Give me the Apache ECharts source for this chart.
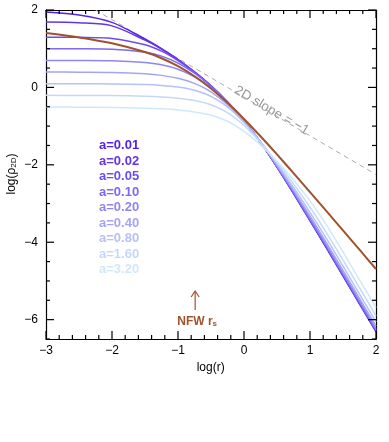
<!DOCTYPE html>
<html><head><meta charset="utf-8">
<script src="https://cdn.jsdelivr.net/npm/echarts@6/dist/echarts.min.js"></script>
<style>html,body{margin:0;padding:0;background:#fff}#c{width:389px;height:442px}</style>
</head><body><div id="c"></div>
<script>
const logR = [-3,-2.5,-2,-1.5,-1.25,-1,-0.75,-0.5,-0.25,0,0.25,0.5,0.75,1,1.25,1.5,1.75,2];
const aLabels = ['a=0.01','a=0.02','a=0.05','a=0.10','a=0.20','a=0.40','a=0.80','a=1.60','a=3.20'];
const rho_a001 = [1.95,1.87,1.68,1.25,1.00,0.72,0.40,0.04,-0.38,-0.86,-1.42,-2.06,-2.74,-3.44,-4.15,-4.87,-5.59,-6.31];
const rho_a002 = [1.69,1.67,1.59,1.22,0.99,0.715,0.398,0.04,-0.38,-0.86,-1.42,-2.059,-2.738,-3.437,-4.146,-4.866,-5.586,-6.306];
const rho_a005 = [1.299,1.294,1.266,1.103,0.936,0.693,0.393,0.040,-0.379,-0.860,-1.418,-2.054,-2.730,-3.426,-4.134,-4.853,-5.573,-6.293];
const rho_a010 = [0.999,0.997,0.986,0.909,0.809,0.629,0.367,0.031,-0.381,-0.861,-1.416,-2.047,-2.717,-3.409,-4.114,-4.833,-5.553,-6.273];
const rho_a020 = [0.698,0.696,0.688,0.641,0.583,0.468,0.275,-0.010,-0.396,-0.865,-1.412,-2.034,-2.694,-3.377,-4.078,-4.795,-5.515,-6.235];
const rho_a040 = [0.397,0.394,0.386,0.351,0.311,0.235,0.103,-0.114,-0.445,-0.883,-1.409,-2.012,-2.652,-3.321,-4.014,-4.728,-5.448,-6.168];
const rho_a080 = [0.096,0.095,0.091,0.073,0.051,0.008,-0.075,-0.231,-0.503,-0.906,-1.404,-1.976,-2.585,-3.229,-3.909,-4.619,-5.339,-6.059];
const rho_a160 = [-0.205,-0.207,-0.211,-0.229,-0.246,-0.279,-0.338,-0.449,-0.653,-0.985,-1.421,-1.934,-2.492,-3.097,-3.757,-4.460,-5.180,-5.900];
const rho_a320 = [-0.508,-0.510,-0.517,-0.536,-0.554,-0.583,-0.633,-0.719,-0.875,-1.138,-1.488,-1.911,-2.386,-2.932,-3.559,-4.252,-4.970,-5.690];
const rho_nfw  = [1.405,1.292,1.139,0.913,0.753,0.549,0.289,-0.027,-0.399,-0.815,-1.263,-1.732,-2.214,-2.704,-3.198,-3.695,-4.193,-4.692];
const slopeLineX = [-2.25, 2];
const slopeLineY = [2, -2.25];
const nfwLogRs = -0.74;
const xMajorTicks = [-3,-2,-1,0,1,2];
const yMajorTicks = [-6,-4,-2,0,2];
const xMinorStep = 0.2, yMinorStep = 0.5;

const blueSeries = [rho_a001,rho_a002,rho_a005,rho_a010,rho_a020,rho_a040,rho_a080,rho_a160,rho_a320];
const blueColors = ['#5520ee','#6633e6','#6c4cf0','#7e68f2','#8f86f4','#a3a4f6','#b6c1f8','#c5d8fa','#d0e8fc'];
const brown = '#a0522d';
const FONT = '"Liberation Sans", Arial, Helvetica, sans-serif';
const fmt = v => (v < 0 ? '\u2212' : '') + Math.abs(v);
const X0 = -3, X1 = 2, Y0 = -6.5, Y1 = 2;
const TICK_COLOR = '#000000', TICK_W = 1.2;

const isMajor = (v, arr) => arr.some(t => Math.abs(t - v) < 1e-9);
const tickData = [];
for (let k = 0; X0 + k * xMinorStep <= X1 + 1e-9; k++) {
  const v = +(X0 + k * xMinorStep).toFixed(6);
  tickData.push([v, 0, isMajor(v, xMajorTicks) ? 8 : 4]);
}
for (let k = 0; Y0 + k * yMinorStep <= Y1 + 1e-9; k++) {
  const v = +(Y0 + k * yMinorStep).toFixed(6);
  tickData.push([v, 1, isMajor(v, yMajorTicks) ? 8 : 4]);
}

const chart = echarts.init(document.getElementById('c'), null, {renderer: 'canvas'});

function xAx(pos, showLabel) {
  return {
    type: 'value', min: X0, max: X1, interval: 1, position: pos,
    axisLine: {show: true, onZero: false, lineStyle: {color: '#000', width: 1.2}},
    axisTick: {show: false}, minorTick: {show: false},
    splitLine: {show: false},
    axisLabel: {show: showLabel, color: '#000', fontSize: 12, fontFamily: FONT, margin: 6, formatter: fmt}
  };
}
function yAx(pos, showLabel) {
  return {
    type: 'value', min: Y0, max: Y1, interval: 0.5, position: pos,
    axisLine: {show: true, onZero: false, lineStyle: {color: '#000', width: 1.2}},
    axisTick: {show: false}, splitLine: {show: false},
    axisLabel: {show: showLabel, color: '#000', fontSize: 12, fontFamily: FONT, margin: 8,
      formatter: v => yMajorTicks.some(t => Math.abs(t - v) < 1e-9) ? fmt(v) : ''}
  };
}

const series = [];
blueSeries.forEach((arr, i) => {
  series.push({
    type: 'line', name: aLabels[i], xAxisIndex: 0, yAxisIndex: 0,
    data: logR.map((x, j) => [x, arr[j]]),
    showSymbol: false, smooth: 0.3, z: 2,
    lineStyle: {color: blueColors[i], width: 1.5}, silent: true
  });
});
series.push({
  type: 'line', name: 'NFW', xAxisIndex: 0, yAxisIndex: 0,
  data: logR.map((x, j) => [x, rho_nfw[j]]),
  showSymbol: false, smooth: 0.3, z: 3,
  lineStyle: {color: brown, width: 2}, silent: true
});
series.push({
  type: 'line', name: 'slope', xAxisIndex: 0, yAxisIndex: 0,
  data: slopeLineX.map((x, j) => [x, slopeLineY[j]]),
  showSymbol: false, z: 1,
  lineStyle: {color: '#aaaaaa', width: 1, type: [5, 4]}, silent: true
});
series.push({
  type: 'custom', name: 'ticks', xAxisIndex: 0, yAxisIndex: 0, silent: true, z: 10, clip: false,
  encode: {x: -1, y: -1},
  data: tickData,
  renderItem: function (params, api) {
    const v = api.value(0), dir = api.value(1), len = api.value(2);
    const st = {stroke: TICK_COLOR, lineWidth: TICK_W};
    if (dir === 0) {
      const b = api.coord([v, Y0]), t = api.coord([v, Y1]);
      return {type: 'group', children: [
        {type: 'line', shape: {x1: b[0], y1: b[1], x2: b[0], y2: b[1] - len}, style: st},
        {type: 'line', shape: {x1: t[0], y1: t[1], x2: t[0], y2: t[1] + len}, style: st}
      ]};
    }
    const l = api.coord([X0, v]), r = api.coord([X1, v]);
    return {type: 'group', children: [
      {type: 'line', shape: {x1: l[0], y1: l[1], x2: l[0] + len, y2: l[1]}, style: st},
      {type: 'line', shape: {x1: r[0], y1: r[1], x2: r[0] - len, y2: r[1]}, style: st}
    ]};
  }
});

chart.setOption({
  animation: false,
  backgroundColor: '#fff',
  grid: {left: 46, right: 13, top: 10, bottom: 103, containLabel: false},
  xAxis: [xAx('bottom', true), xAx('top', false)],
  yAxis: [yAx('left', true), yAx('right', false)],
  series: series
});

const P = (x, y) => chart.convertToPixel({xAxisIndex: 0, yAxisIndex: 0}, [x, y]);
const g = [];
const labLeft = 99, labTop = 145.7, labStep = 15.5;
aLabels.forEach((t, i) => {
  g.push({type: 'text', x: labLeft, y: labTop + i * labStep,
    style: {text: t, fill: blueColors[i], font: 'bold 13px ' + FONT, textAlign: 'left', textVerticalAlign: 'middle'}});
});
const p1 = P(slopeLineX[0], slopeLineY[0]), p2 = P(slopeLineX[1], slopeLineY[1]);
const ang = Math.atan2(p2[1] - p1[1], p2[0] - p1[0]);
const lc = P(0.42, -0.66 + 0.06);
g.push({type: 'text', x: lc[0], y: lc[1], rotation: -ang,
  style: {text: '2D slope = \u22121', fill: '#999999', font: '13.5px ' + FONT, textAlign: 'center', textVerticalAlign: 'middle'}});
const aBot = P(nfwLogRs, -5.75), aTop = P(nfwLogRs, -5.26);
g.push({type: 'line', shape: {x1: aBot[0], y1: aBot[1], x2: aTop[0], y2: aTop[1]}, style: {stroke: brown, lineWidth: 1.2}});
g.push({type: 'polyline', shape: {points: [[aTop[0] - 4, aTop[1] + 6], [aTop[0], aTop[1]], [aTop[0] + 4, aTop[1] + 6]]}, style: {stroke: brown, lineWidth: 1.2, fill: null}});
const nl = P(nfwLogRs + 0.03, -6.06);
g.push({type: 'text', x: nl[0], y: nl[1],
  style: {text: 'NFW r{s|s}', fill: brown, font: 'bold 12px ' + FONT, textAlign: 'center', textVerticalAlign: 'middle',
    rich: {s: {fontSize: 8, fontWeight: 'bold', fontFamily: FONT, fill: brown, verticalAlign: 'bottom'}}}});
g.push({type: 'text', x: 210.7, y: 368, style: {text: 'log(r)', fill: '#000', font: '12px ' + FONT, textAlign: 'center', textVerticalAlign: 'middle'}});
g.push({type: 'text', x: 12, y: 174, rotation: Math.PI / 2,
  style: {text: 'log(\u03c1{s|2D})', fill: '#000', font: '12px ' + FONT, textAlign: 'center', textVerticalAlign: 'middle',
    rich: {s: {fontSize: 8, fontFamily: FONT, fill: '#000', verticalAlign: 'bottom'}}}});
chart.setOption({graphic: {elements: g}});
</script></body></html>
